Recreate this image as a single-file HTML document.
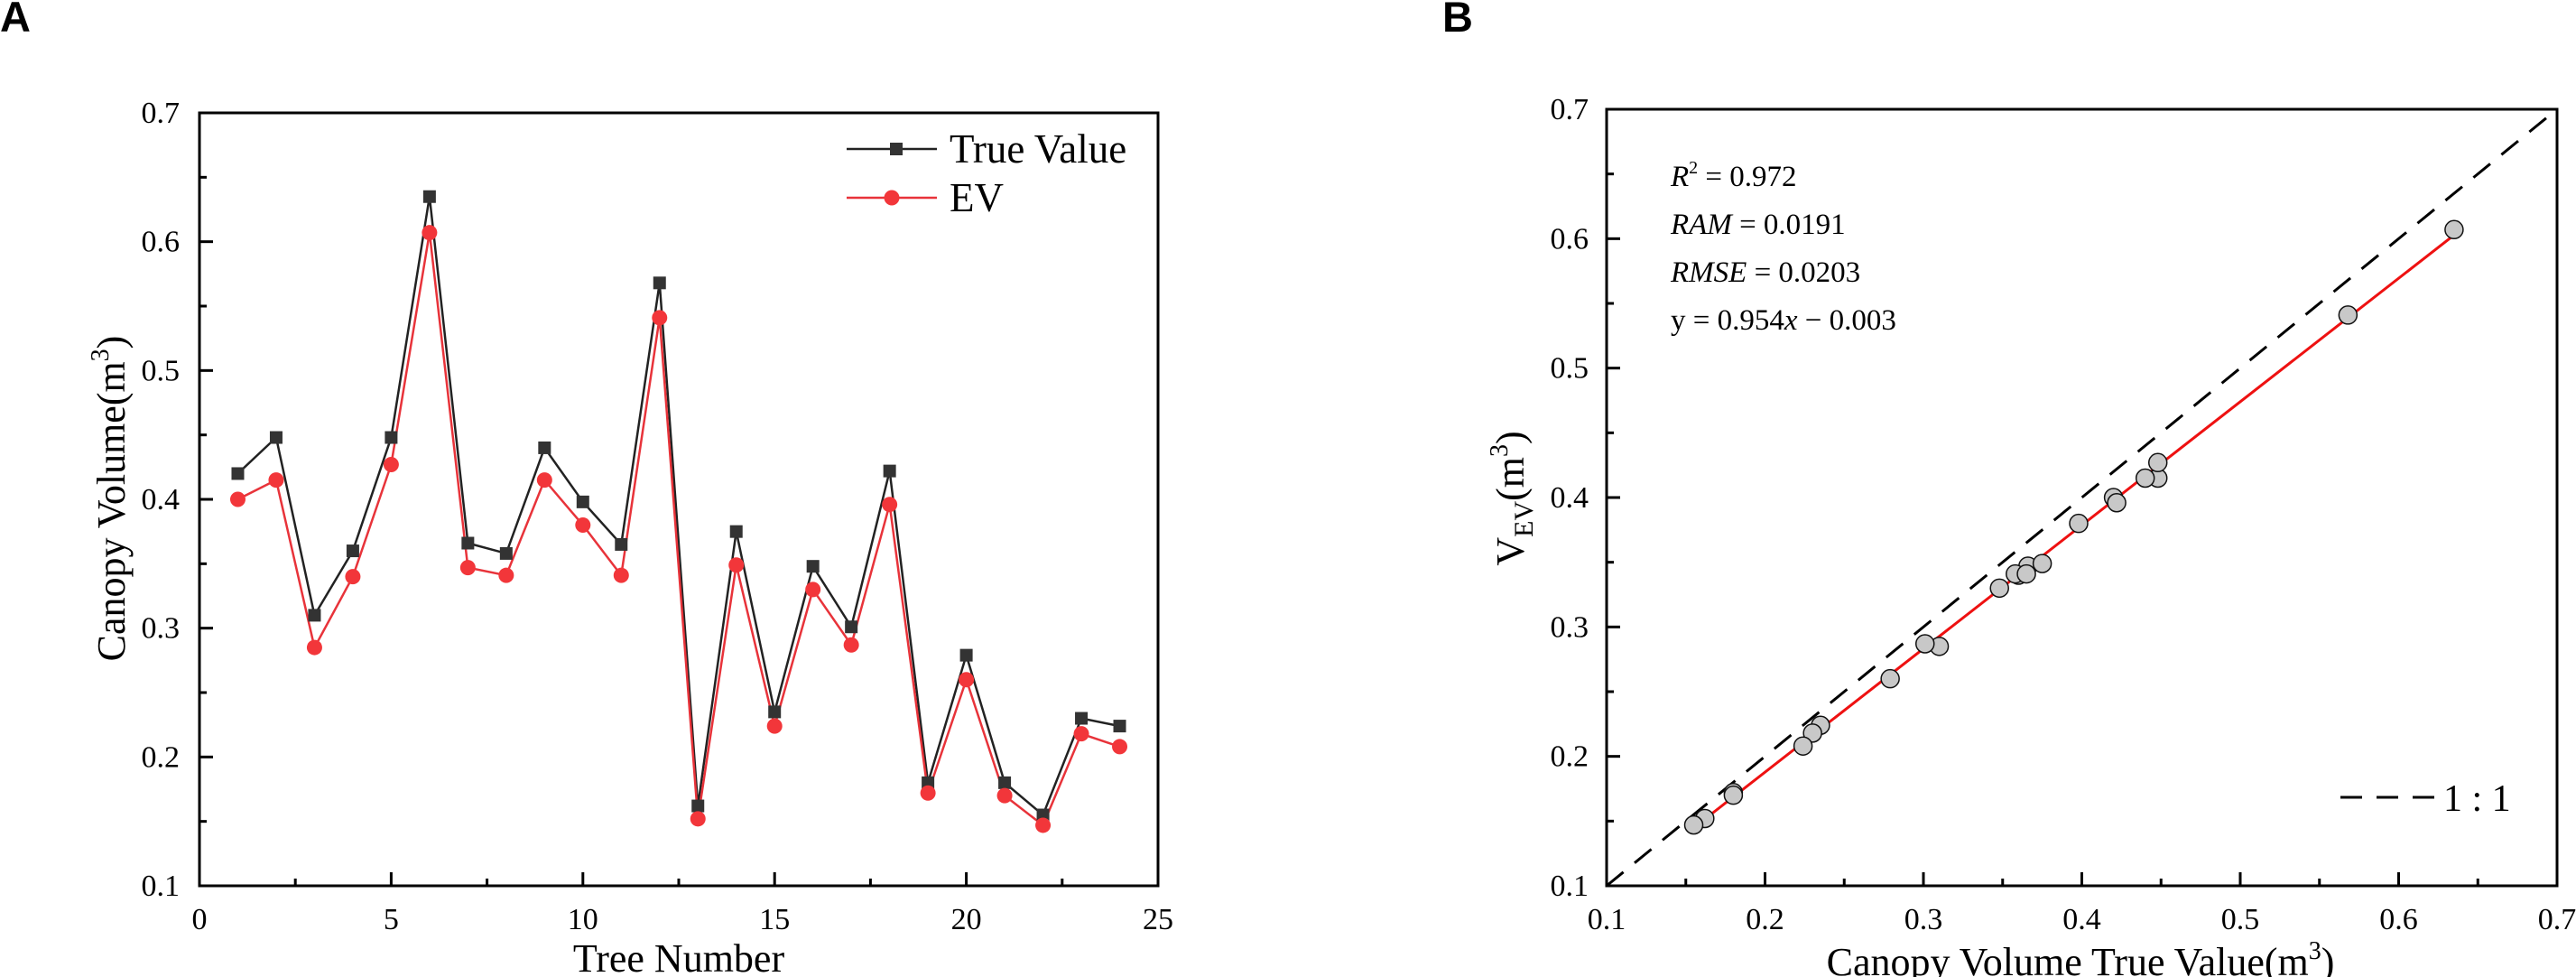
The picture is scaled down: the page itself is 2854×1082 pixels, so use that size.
<!DOCTYPE html>
<html><head><meta charset="utf-8"><style>
html,body{margin:0;padding:0;background:#fff;}
svg{display:block;font-family:"Liberation Serif",serif;}
</style></head><body>
<svg id="chart" width="2854" height="1082" viewBox="0 0 2854 1082" xmlns="http://www.w3.org/2000/svg">
<text x="0" y="35" font-family="Liberation Sans, sans-serif" font-weight="bold" font-size="47">A</text>
<text x="1598" y="35" font-family="Liberation Sans, sans-serif" font-weight="bold" font-size="47">B</text>
<g id="panelA"></g>
<g id="panelB"></g>
</svg>
<script>
const treeNumbers = [1,2,3,4,5,6,7,8,9,10,11,12,13,14,15,16,17,18,19,20,21,22,23,24];
const trueValues = [0.420,0.448,0.310,0.360,0.448,0.635,0.366,0.358,0.440,0.398,0.365,0.568,0.162,0.375,0.235,0.348,0.301,0.422,0.180,0.279,0.180,0.155,0.230,0.224];
const evValues = [0.400,0.415,0.285,0.340,0.427,0.607,0.347,0.341,0.415,0.380,0.341,0.541,0.152,0.349,0.224,0.330,0.287,0.396,0.172,0.260,0.170,0.147,0.218,0.208];
const xTicksA = [0,5,10,15,20,25];
const yTicks = [0.1,0.2,0.3,0.4,0.5,0.6,0.7];
const xTicksB = [0.1,0.2,0.3,0.4,0.5,0.6,0.7];
const fitSlope = 0.954;
const fitIntercept = -0.003;

const NS = "http://www.w3.org/2000/svg";
function mk(parent, tag, attrs, text){
  const e = document.createElementNS(NS, tag);
  for (const k in attrs) e.setAttribute(k, attrs[k]);
  if (text !== undefined) e.textContent = text;
  parent.appendChild(e);
  return e;
}

// ---------- Panel A ----------
const A = document.getElementById('panelA');
const aL=221, aR=1283, aT=125, aB=981;
const xA = v => aL + (v-0)/(25-0)*(aR-aL);
const yA = v => aB - (v-0.1)/(0.7-0.1)*(aB-aT);

let e;
e = mk(A,'rect',{x:aL,y:aT,width:aR-aL,height:aB-aT,fill:'none',stroke:'#000','stroke-width':3});


for (let i=0;i<xTicksA.length;i++){
  const v = xTicksA[i];
  e = mk(A,'line',{x1:xA(v),x2:xA(v),y1:aB,y2:aB-15,stroke:'#000','stroke-width':3});
  
  
  e = mk(A,'text',{x:xA(v),y:aB+48,'font-size':34,'text-anchor':'middle'}, String(v));
  
  
  if (i<xTicksA.length-1){
    const m=(v+xTicksA[i+1])/2;
    e = mk(A,'line',{x1:xA(m),x2:xA(m),y1:aB,y2:aB-8,stroke:'#000','stroke-width':3});
    
    
  }
}
for (let i=0;i<yTicks.length;i++){
  const v = yTicks[i];
  e = mk(A,'line',{x1:aL,x2:aL+15,y1:yA(v),y2:yA(v),stroke:'#000','stroke-width':3});
  
  
  e = mk(A,'text',{x:aL-22,y:yA(v)+11,'font-size':34,'text-anchor':'end'}, v.toFixed(1));
  
  
  if (i<yTicks.length-1){
    const m=(v+yTicks[i+1])/2;
    e = mk(A,'line',{x1:aL,x2:aL+8,y1:yA(m),y2:yA(m),stroke:'#000','stroke-width':3});
    
    
  }
}
e = mk(A,'text',{x:752,y:1076,'font-size':44,'text-anchor':'middle'},'Tree Number');


e = mk(A,'text',{transform:'translate(138,552) rotate(-90)','font-size':44,'text-anchor':'middle'});


mk(e,'tspan',{},'Canopy Volume(m');
mk(e,'tspan',{'font-size':28,dy:-18},'3');
mk(e,'tspan',{dy:18},')');

e = mk(A,'polyline',{points:treeNumbers.map((t,i)=>xA(t)+','+yA(trueValues[i])).join(' '),fill:'none',stroke:'#222','stroke-width':2.5});


e = mk(A,'polyline',{points:treeNumbers.map((t,i)=>xA(t)+','+yA(evValues[i])).join(' '),fill:'none',stroke:'#e8333a','stroke-width':2.5});


for (let i=0;i<treeNumbers.length;i++){
  e = mk(A,'rect',{x:xA(treeNumbers[i])-7,y:yA(trueValues[i])-7,width:14,height:14,fill:'#333'});
  
  
}
for (let i=0;i<treeNumbers.length;i++){
  e = mk(A,'circle',{cx:xA(treeNumbers[i]),cy:yA(evValues[i]),r:8.5,fill:'#f2363a'});
  
  
}
const lg = mk(A,'g',{});


e = mk(lg,'line',{x1:938,x2:1038,y1:165,y2:165,stroke:'#222','stroke-width':2.5});


e = mk(lg,'rect',{x:986,y:158,width:14,height:14,fill:'#333'});


e = mk(lg,'text',{x:1052,y:180,'font-size':45},'True Value');


e = mk(lg,'line',{x1:938,x2:1038,y1:219,y2:219,stroke:'#e8333a','stroke-width':2.5});


e = mk(lg,'circle',{cx:988,cy:219,r:8.5,fill:'#f2363a'});


e = mk(lg,'text',{x:1052,y:234,'font-size':45},'EV');



// ---------- Panel B ----------
const B = document.getElementById('panelB');
const bL=1780, bR=2833, bT=121, bB=981;
const xB = v => bL + (v-0.1)/(0.7-0.1)*(bR-bL);
const yB = v => bB - (v-0.1)/(0.7-0.1)*(bB-bT);
e = mk(B,'rect',{x:bL,y:bT,width:bR-bL,height:bB-bT,fill:'none',stroke:'#000','stroke-width':3});


for (let i=0;i<xTicksB.length;i++){
  const v = xTicksB[i];
  e = mk(B,'line',{x1:xB(v),x2:xB(v),y1:bB,y2:bB-15,stroke:'#000','stroke-width':3});
  
  
  e = mk(B,'text',{x:xB(v),y:bB+48,'font-size':34,'text-anchor':'middle'}, v.toFixed(1));
  
  
  if (i<xTicksB.length-1){
    const m=(v+xTicksB[i+1])/2;
    e = mk(B,'line',{x1:xB(m),x2:xB(m),y1:bB,y2:bB-8,stroke:'#000','stroke-width':3});
    
    
  }
}
for (let i=0;i<yTicks.length;i++){
  const v = yTicks[i];
  e = mk(B,'line',{x1:bL,x2:bL+15,y1:yB(v),y2:yB(v),stroke:'#000','stroke-width':3});
  
  
  e = mk(B,'text',{x:bL-20,y:yB(v)+11,'font-size':34,'text-anchor':'end'}, v.toFixed(1));
  
  
  if (i<yTicks.length-1){
    const m=(v+yTicks[i+1])/2;
    e = mk(B,'line',{x1:bL,x2:bL+8,y1:yB(m),y2:yB(m),stroke:'#000','stroke-width':3});
    
    
  }
}
e = mk(B,'text',{x:2305,y:1080,'font-size':44,'text-anchor':'middle'});


mk(e,'tspan',{},'Canopy Volume True Value(m');
mk(e,'tspan',{'font-size':28,dy:-18},'3');
mk(e,'tspan',{dy:18},')');
e = mk(B,'text',{transform:'translate(1688,552) rotate(-90)','font-size':44,'text-anchor':'middle'});


mk(e,'tspan',{},'V');
mk(e,'tspan',{'font-size':30,dy:10},'EV');
mk(e,'tspan',{dy:-10},'(m');
mk(e,'tspan',{'font-size':28,dy:-18},'3');
mk(e,'tspan',{dy:18},')');

e = mk(B,'line',{x1:xB(0.1),y1:yB(0.1),x2:xB(0.7),y2:yB(0.7),stroke:'#000','stroke-width':3,'stroke-dasharray':'24,16'});


const xMin = Math.min(...trueValues), xMax = Math.max(...trueValues);
e = mk(B,'line',{x1:xB(xMin),y1:yB(fitSlope*xMin+fitIntercept),x2:xB(xMax),y2:yB(fitSlope*xMax+fitIntercept),stroke:'#ee1111','stroke-width':3});


for (let i=0;i<trueValues.length;i++){
  e = mk(B,'circle',{cx:xB(trueValues[i]),cy:yB(evValues[i]),r:10,fill:'#c8c8c8',stroke:'#111','stroke-width':1.5});
  
  
}
const st = mk(B,'g',{'font-size':33});


e = mk(st,'text',{x:1851,y:206});


mk(e,'tspan',{'font-style':'italic'},'R');
mk(e,'tspan',{'font-size':20,dy:-14},'2');
mk(e,'tspan',{dy:14},' = 0.972');
e = mk(st,'text',{x:1851,y:259});


mk(e,'tspan',{'font-style':'italic'},'RAM');
mk(e,'tspan',{},' = 0.0191');
e = mk(st,'text',{x:1851,y:312});


mk(e,'tspan',{'font-style':'italic'},'RMSE');
mk(e,'tspan',{},' = 0.0203');
e = mk(st,'text',{x:1851,y:365});


mk(e,'tspan',{},'y = 0.954');
mk(e,'tspan',{'font-style':'italic'},'x');
mk(e,'tspan',{},' \u2212 0.003');
e = mk(B,'line',{x1:2593,x2:2697,y1:883,y2:883,stroke:'#000','stroke-width':3,'stroke-dasharray':'24,16'});


e = mk(B,'text',{x:2707,y:898,'font-size':42},'1 : 1');


</script>
</body></html>
